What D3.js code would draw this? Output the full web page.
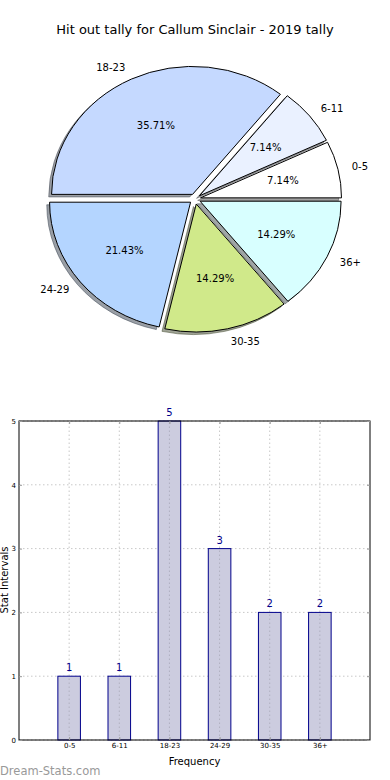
<!DOCTYPE html>
<html><head><meta charset="utf-8">
<script src="https://cdn.jsdelivr.net/npm/d3@7"></script>
<style>body{margin:0;background:#fff;}svg{display:block;font-family:"DejaVu Sans",sans-serif;}</style>
</head><body><svg id="c" width="390" height="780"></svg>
<script>
const title = "Hit out tally for Callum Sinclair - 2019 tally";
const categories = ["0-5","6-11","18-23","24-29","30-35","36+"];
const counts = [1,1,5,3,2,2];
const pieColors = ["#ffffff","#eaf1ff","#c5d9ff","#b4d5ff","#d0e98a","#d8ffff"];
const yTicks = [0,1,2,3,4,5];
const xLabel = "Frequency", yLabel = "Stat Intervals", watermark = "Dream-Stats.com";

const svg = d3.select("#c");
svg.append("text").attr("x",195).attr("y",34).attr("text-anchor","middle")
  .attr("font-size",13).attr("fill","#000").text(title);

// ---- Pie ----
const cx=195, cy=199, rx=141, ry=128, explode=0.04;
const total = d3.sum(counts);
const pie = d3.pie().sort(null).value(d=>d)(counts);
const arc = d3.arc().innerRadius(0).outerRadius(1);
const slices = pie.map((p,i)=>{
  const t0=p.startAngle, t1=p.endAngle; // mpl ccw angles from east
  const mid=(t0+t1)/2;
  return {i, start:Math.PI/2-t1, end:Math.PI/2-t0, mid,
    dx:Math.cos(mid), dy:-Math.sin(mid)};
});
function darken(c){const r=d3.rgb(c);return d3.rgb(r.r*0.3,r.g*0.3,r.b*0.3).toString();}
const pg = svg.append("g");
slices.forEach(s=>{
  pg.append("path")
    .attr("transform",`translate(${cx+(s.dx*explode-0.02)*rx},${cy+(s.dy*explode+0.02)*ry}) scale(${rx},${ry})`)
    .attr("d",arc({startAngle:s.start,endAngle:s.end}))
    .attr("fill",darken(pieColors[s.i])).attr("fill-opacity",0.5)
    .attr("stroke",darken(pieColors[s.i])).attr("stroke-opacity",0.5)
    .attr("stroke-width",1).attr("vector-effect","non-scaling-stroke");
});
slices.forEach(s=>{
  pg.append("path")
    .attr("transform",`translate(${cx+s.dx*explode*rx},${cy+s.dy*explode*ry}) scale(${rx},${ry})`)
    .attr("d",arc({startAngle:s.start,endAngle:s.end}))
    .attr("fill",pieColors[s.i]).attr("stroke","#000").attr("stroke-width",1)
    .attr("vector-effect","non-scaling-stroke");
});
slices.forEach(s=>{
  const ox=cx+s.dx*explode*rx, oy=cy+s.dy*explode*ry;
  pg.append("text").attr("x",ox+s.dx*0.6*rx).attr("y",oy+s.dy*0.6*ry)
    .attr("text-anchor","middle").attr("dominant-baseline","central")
    .attr("font-size",10).text((counts[s.i]/total*100).toFixed(2)+"%");
  pg.append("text").attr("x",ox+s.dx*1.1*rx).attr("y",oy+s.dy*1.1*ry)
    .attr("text-anchor",s.dx<0?"end":"start").attr("dominant-baseline","central")
    .attr("font-size",10).text(categories[s.i]);
});

// ---- Bar ----
const x = d3.scaleLinear().domain([-1,6]).range([19,370]);
const y = d3.scaleLinear().domain([0,5]).range([740,421]);
const bw = 0.45;
const bg = svg.append("g");
bg.selectAll(".gx").data(categories).join("line")
  .attr("x1",(d,i)=>x(i)).attr("x2",(d,i)=>x(i)).attr("y1",y(0)).attr("y2",y(5))
  .attr("stroke","#c8c8c8").attr("stroke-dasharray","1.5,2.5");
bg.selectAll(".gy").data(yTicks).join("line")
  .attr("x1",x(-1)).attr("x2",x(6)).attr("y1",d=>y(d)).attr("y2",d=>y(d))
  .attr("stroke","#c8c8c8").attr("stroke-dasharray","1.5,2.5");
bg.selectAll(".bar").data(counts).join("rect")
  .attr("x",(d,i)=>x(i-bw/2)).attr("width",x(bw)-x(0))
  .attr("y",d=>y(d)).attr("height",d=>y(0)-y(d))
  .attr("fill","#ccccdf").attr("stroke","#00008b").attr("stroke-width",1);
bg.selectAll(".gxb").data(counts).join("line")
  .attr("x1",(d,i)=>x(i)).attr("x2",(d,i)=>x(i)).attr("y1",y(0)).attr("y2",d=>y(d))
  .attr("stroke","#b0b0c0").attr("stroke-dasharray","1.5,2.5");
bg.selectAll(".val").data(counts).join("text")
  .attr("x",(d,i)=>x(i)).attr("y",d=>y(d)-5).attr("text-anchor","middle")
  .attr("font-size",10).attr("fill","#00008b").text(d=>d);
bg.append("rect").attr("x",x(-1)).attr("y",y(5)).attr("width",x(6)-x(-1)).attr("height",y(0)-y(5))
  .attr("fill","none").attr("stroke","#000").attr("stroke-width",1);
const ya = bg.append("g").attr("transform",`translate(${x(-1)},0)`)
  .call(d3.axisLeft(y).tickValues(yTicks).tickSize(-3).tickPadding(3).tickFormat(d3.format("d")));
ya.select(".domain").remove();
ya.selectAll("text").attr("font-size",7).attr("font-family","DejaVu Sans").attr("fill","#000");
ya.selectAll("line").attr("stroke","#999");
const yr = bg.append("g").attr("transform",`translate(${x(6)},0)`)
  .call(d3.axisRight(y).tickValues(yTicks).tickSize(-3).tickFormat(""));
yr.select(".domain").remove(); yr.selectAll("line").attr("stroke","#999");
const xa = bg.append("g").attr("transform",`translate(0,${y(0)})`)
  .call(d3.axisBottom(x).tickValues(d3.range(categories.length)).tickSize(-3).tickPadding(3).tickFormat(i=>categories[i]));
xa.select(".domain").remove();
xa.selectAll("text").attr("font-size",7).attr("font-family","DejaVu Sans").attr("fill","#000");
xa.selectAll("line").attr("stroke","#999");
const xt = bg.append("g").attr("transform",`translate(0,${y(5)})`)
  .call(d3.axisTop(x).tickValues(d3.range(categories.length)).tickSize(-3).tickFormat(""));
xt.select(".domain").remove(); xt.selectAll("line").attr("stroke","#999");
svg.append("text").attr("x",194.5).attr("y",765).attr("text-anchor","middle").attr("font-size",10).text(xLabel);
svg.append("text").attr("transform","translate(8,580) rotate(-90)").attr("text-anchor","middle").attr("font-size",10).text(yLabel);
svg.append("text").attr("x",0).attr("y",775).attr("font-size",11.5).attr("fill","#999").text(watermark);
</script></body></html>
